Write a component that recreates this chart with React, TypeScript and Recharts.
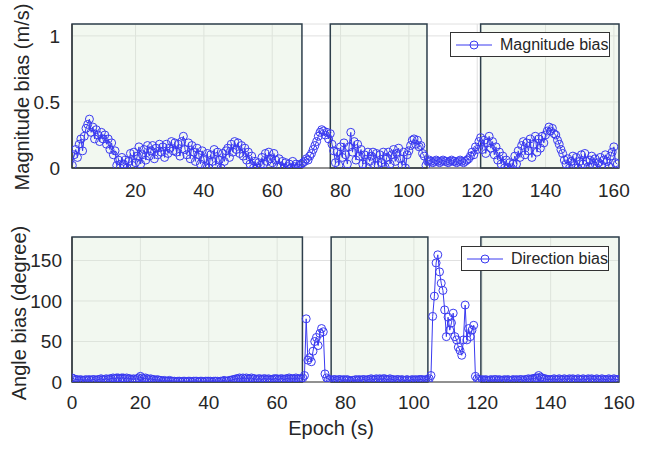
import React from 'react';
import { LineChart, Line, XAxis, YAxis, CartesianGrid, ReferenceArea } from 'recharts';

// epochs step 0.5 s; magnitude series starts at 1.5 s, angle series at 0 s
const magStart = 1.5;
const angleStart = 0;
const step = 0.5;

const magnitudeBias = [
  0.02, 0.10, 0.14, 0.08, 0.18, 0.22, 0.13, 0.24, 0.30, 0.33, 0.37, 0.27, 0.31, 0.22, 0.29, 0.25, 0.20, 0.27, 0.22, 0.25,
  0.18, 0.22, 0.14, 0.19, 0.10, 0.13, 0.02, 0.06, 0.00, 0.08, 0.03, 0.06, 0.00, 0.05, 0.11, 0.02, 0.12, 0.04, 0.09, 0.16,
  0.03, 0.10, 0.14, 0.06, 0.17, 0.09, 0.13, 0.17, 0.07, 0.15, 0.10, 0.18, 0.12, 0.16, 0.08, 0.18, 0.11, 0.15, 0.20, 0.13,
  0.19, 0.12, 0.18, 0.09, 0.20, 0.24, 0.14, 0.10, 0.19, 0.07, 0.17, 0.12, 0.05, 0.15, 0.10, 0.03, 0.13, 0.07, 0.01, 0.11,
  0.00, 0.10, 0.05, 0.14, 0.02, 0.12, 0.06, 0.00, 0.11, 0.05, 0.13, 0.15, 0.08, 0.18, 0.12, 0.20, 0.14, 0.19, 0.11, 0.17,
  0.09, 0.15, 0.06, 0.12, 0.03, 0.09, 0.00, 0.05, 0.00, 0.04, 0.02, 0.08, 0.03, 0.11, 0.05, 0.12, 0.07, 0.04, 0.11, 0.06,
  0.02, 0.07, 0.01, 0.05, 0.00, 0.04, 0.01, 0.03, 0.00, 0.05, 0.01, 0.03, 0.00, 0.02, 0.03, 0.04, 0.05, 0.07, 0.06, 0.09,
  0.11, 0.14, 0.17, 0.20, 0.24, 0.27, 0.29, 0.28, 0.25, 0.27, 0.22, 0.26, 0.18, 0.13, 0.04, 0.12, 0.02, 0.16, 0.08, 0.19,
  0.10, 0.03, 0.16, 0.27, 0.12, 0.20, 0.06, 0.18, 0.09, 0.14, 0.03, 0.10, 0.01, 0.12, 0.05, 0.09, 0.12, 0.02, 0.11, 0.02,
  0.10, 0.04, 0.12, 0.01, 0.08, 0.12, 0.03, 0.10, 0.14, 0.05, 0.11, 0.15, 0.07, 0.02, 0.12, 0.00, 0.10, 0.13, 0.17, 0.21,
  0.22, 0.18, 0.21, 0.16, 0.17, 0.11, 0.09, 0.02, 0.05, 0.06, 0.05, 0.04, 0.05, 0.06, 0.05, 0.04, 0.05, 0.06, 0.05, 0.05,
  0.04, 0.05, 0.06, 0.05, 0.05, 0.04, 0.05, 0.06, 0.05, 0.04, 0.05, 0.06, 0.07, 0.09, 0.12, 0.10, 0.16, 0.14, 0.20, 0.23,
  0.14, 0.21, 0.11, 0.19, 0.24, 0.15, 0.20, 0.10, 0.16, 0.06, 0.12, 0.03, 0.09, 0.00, 0.06, 0.00, 0.04, 0.00, 0.03, 0.09,
  0.03, 0.13, 0.08, 0.17, 0.20, 0.10, 0.19, 0.13, 0.22, 0.08, 0.18, 0.24, 0.12, 0.22, 0.15, 0.24, 0.19, 0.25, 0.28, 0.31,
  0.28, 0.30, 0.26, 0.25, 0.21, 0.18, 0.14, 0.11, 0.06, 0.03, 0.07, 0.00, 0.05, 0.09, 0.02, 0.08, 0.00, 0.05, 0.10, 0.03,
  0.11, 0.05, 0.01, 0.06, 0.09, 0.02, 0.07, 0.00, 0.04, 0.08, 0.02, 0.06, 0.10, 0.05, 0.01, 0.09, 0.12, 0.16, 0.04, 0.03,
];

const angleBias = [
  5, 4, 3, 3, 2, 3, 2, 2, 3, 2, 3, 2, 3, 3, 2, 3, 3, 4, 3, 3,
  4, 3, 4, 4, 5, 4, 5, 5, 4, 5, 5, 4, 5, 4, 4, 3, 4, 3, 4, 5,
  7, 5, 4, 5, 4, 3, 4, 3, 3, 2, 3, 2, 2, 1, 2, 1, 1, 2, 1, 1,
  1, 0, 1, 1, 0, 1, 1, 0, 1, 1, 0, 1, 1, 1, 0, 1, 1, 0, 1, 1,
  1, 1, 0, 1, 1, 1, 0, 1, 1, 2, 1, 1, 2, 2, 3, 3, 4, 4, 5, 4,
  5, 4, 5, 4, 4, 5, 4, 4, 3, 4, 4, 3, 4, 4, 3, 4, 3, 3, 4, 4,
  4, 3, 4, 4, 3, 4, 4, 5, 4, 4, 4, 5, 4, 4, 4, 5, 8, 78, 27, 30,
  25, 38, 50, 55, 45, 60, 66, 62, 10, 5, 3, 3, 2, 3, 3, 2, 3, 3, 2, 3,
  2, 3, 2, 1, 2, 2, 3, 2, 3, 2, 3, 3, 2, 3, 3, 4, 3, 3, 4, 3,
  4, 3, 4, 4, 3, 3, 4, 3, 3, 2, 3, 3, 2, 3, 2, 2, 3, 2, 2, 3,
  2, 3, 2, 3, 3, 3, 2, 3, 3, 4, 8, 81, 106, 147, 157, 136, 122, 113, 89, 56,
  80, 64, 73, 85, 56, 52, 43, 39, 33, 52, 95, 52, 66, 56, 64, 70, 7, 4, 3, 2,
  3, 2, 3, 2, 2, 3, 2, 3, 3, 2, 3, 2, 2, 3, 2, 3, 2, 2, 3, 2,
  3, 2, 3, 3, 2, 3, 3, 4, 3, 4, 4, 5, 5, 8, 6, 5, 4, 4, 3, 3,
  3, 3, 4, 3, 3, 4, 3, 3, 4, 3, 3, 4, 3, 4, 3, 3, 4, 3, 3, 4,
  3, 3, 4, 3, 4, 3, 3, 4, 3, 3, 4, 3, 3, 3, 4, 3, 3, 4, 3, 3,
  3,
];

// shaded segments [start, end] in epoch seconds
const magRegions = [[1.4, 68.7], [77, 105.3], [121, 161.5]];
const angleRegions = [[0, 67.4], [75.8, 104.1], [119.6, 160]];

const magXTicks = [20, 40, 60, 80, 100, 120, 140, 160];
const angleXTicks = [0, 20, 40, 60, 80, 100, 120, 140, 160];
const magYTicks = [0, 0.5, 1];
const angleYTicks = [0, 50, 100, 150];

const BLUE = '#3a3af0';
const FONT = '"Liberation Sans", Arial, sans-serif';
const TEXT = '#262626';

const magData = magnitudeBias.map((v, i) => ({ t: magStart + i * step, v }));
const angleData = angleBias.map((v, i) => ({ t: angleStart + i * step, v }));

function LegendBox({ left, top, width, label }: { left: number; top: number; width: number; label: string }) {
  return (
    <div style={{
      position: 'absolute', left, top, width, height: 25, boxSizing: 'border-box',
      border: '1px solid #333', background: '#fff', display: 'flex', alignItems: 'center',
      fontFamily: FONT, fontSize: 16, color: TEXT,
    }}>
      <svg width={42} height={20} style={{ marginLeft: 3 }}>
        <line x1={2} y1={10} x2={38} y2={10} stroke={BLUE} strokeWidth={1} />
        <circle cx={20} cy={10} r={4} stroke={BLUE} fill="none" />
      </svg>
      <span style={{ marginLeft: 4 }}>{label}</span>
    </div>
  );
}

const tickStyle = { fontSize: 19, fill: TEXT, fontFamily: FONT };

export default function App() {
  return (
    <div style={{ position: 'absolute', left: 0, top: 0, width: 660, height: 450, background: '#fff', overflow: 'hidden' }}>
      <div style={{ position: 'absolute', left: 0, top: 0 }}>
        <LineChart width={660} height={200} data={magData} margin={{ top: 24, right: 41, bottom: 0, left: 0 }}>
          <CartesianGrid stroke="#e0e0e0" strokeWidth={1} />
          <XAxis dataKey="t" type="number" domain={[1.4, 161.5]} ticks={magXTicks} allowDataOverflow
            tick={tickStyle} tickLine={false} tickMargin={10} height={32} stroke="#333" />
          <YAxis type="number" domain={[0, 1.09]} ticks={magYTicks} allowDataOverflow
            tick={tickStyle} tickLine={false} tickMargin={6} width={72} stroke="#333" />
          {magRegions.map((r, i) => (
            <ReferenceArea key={i} x1={r[0]} x2={r[1]} y1={0} y2={1.09}
              fill="#dbead4" fillOpacity={0.35} stroke="#2e3f4c" strokeWidth={1.5} ifOverflow="visible" />
          ))}
          <Line dataKey="v" stroke={BLUE} strokeWidth={1} isAnimationActive={false}
            dot={{ r: 4, stroke: BLUE, strokeWidth: 1, fill: 'none' }} activeDot={false} />
        </LineChart>
      </div>
      <div style={{ position: 'absolute', left: 0, top: 210 }}>
        <LineChart width={660} height={210} data={angleData} margin={{ top: 27, right: 41, bottom: 0, left: 0 }}>
          <CartesianGrid stroke="#e0e0e0" strokeWidth={1} />
          <XAxis dataKey="t" type="number" domain={[0, 160]} ticks={angleXTicks} allowDataOverflow
            tick={tickStyle} tickLine={false} tickMargin={8} height={38} stroke="#333" />
          <YAxis type="number" domain={[0, 179]} ticks={angleYTicks} allowDataOverflow
            tick={tickStyle} tickLine={false} tickMargin={4} width={72} stroke="#333" />
          {angleRegions.map((r, i) => (
            <ReferenceArea key={i} x1={r[0]} x2={r[1]} y1={0} y2={179}
              fill="#dbead4" fillOpacity={0.35} stroke="#2e3f4c" strokeWidth={1.5} ifOverflow="visible" />
          ))}
          <Line dataKey="v" stroke={BLUE} strokeWidth={1} isAnimationActive={false}
            dot={{ r: 4, stroke: BLUE, strokeWidth: 1, fill: 'none' }} activeDot={false} />
        </LineChart>
      </div>
      <LegendBox left={450} top={32} width={160} label="Magnitude bias" />
      <LegendBox left={461} top={246} width={148} label="Direction bias" />
      <div style={{ position: 'absolute', left: 22, top: 97, transform: 'translate(-50%, -50%) rotate(-90deg)',
        whiteSpace: 'nowrap', fontFamily: FONT, fontSize: 20, color: TEXT }}>Magnitude bias (m/s)</div>
      <div style={{ position: 'absolute', left: 19, top: 313, transform: 'translate(-50%, -50%) rotate(-90deg)',
        whiteSpace: 'nowrap', fontFamily: FONT, fontSize: 20, color: TEXT }}>Angle bias (degree)</div>
      <div style={{ position: 'absolute', left: 331, top: 428, transform: 'translate(-50%, -50%)',
        whiteSpace: 'nowrap', fontFamily: FONT, fontSize: 20, color: TEXT }}>Epoch (s)</div>
    </div>
  );
}
